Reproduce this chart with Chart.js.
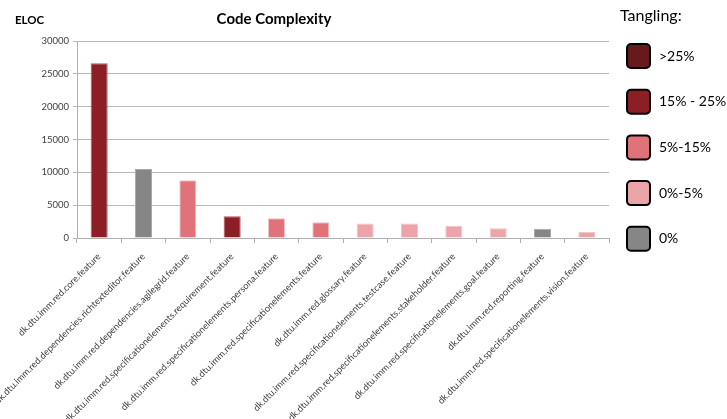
<!DOCTYPE html>
<html><head><meta charset="utf-8">
<script src="https://cdn.jsdelivr.net/npm/chart.js@4/dist/chart.umd.min.js"></script>
<style>html,body{margin:0;padding:0;background:#fff}#wrap{width:727px;height:419px;position:relative}</style>
</head><body><div id="wrap"><canvas id="c" width="727" height="419"></canvas></div>
<script>
const categories = [
  "dk.dtu.imm.red.core.feature",
  "dk.dtu.imm.red.dependencies.richtexteditor.feature",
  "dk.dtu.imm.red.dependencies.agilegrid.feature",
  "dk.dtu.imm.red.specificationelements.requirement.feature",
  "dk.dtu.imm.red.specificationelements.persona.feature",
  "dk.dtu.imm.red.specificationelements.feature",
  "dk.dtu.imm.red.glossary.feature",
  "dk.dtu.imm.red.specificationelements.testcase.feature",
  "dk.dtu.imm.red.specificationelements.stakeholder.feature",
  "dk.dtu.imm.red.specificationelements.goal.feature",
  "dk.dtu.imm.red.reporting.feature",
  "dk.dtu.imm.red.specificationelements.vision.feature"
];
const eloc = [26600, 10500, 8780, 3300, 3000, 2400, 2200, 2200, 1850, 1500, 1400, 950];
const tanglingClass = ["15% - 25%", "0%", "5%-15%", "15% - 25%", "5%-15%", "5%-15%", "0%-5%", "0%-5%", "0%-5%", "0%-5%", "0%", "0%-5%"];
const legendLabels = [">25%", "15% - 25%", "5%-15%", "0%-5%", "0%"];
const legendColors = ["#661A1E", "#8C1E26", "#E0737A", "#EBA4A8", "#868686"];
const yTicks = [0, 5000, 10000, 15000, 20000, 25000, 30000];

const colorOf = c => legendColors[legendLabels.indexOf(c)];
const barColors = tanglingClass.map(colorOf);
const barBorders = tanglingClass.map(c => c === "0%" ? "#a8a8a8" : (c === "15% - 25%" ? "#b0575d" : "#f3c3c6"));

const FONT = "Lato, 'Open Sans', sans-serif";

const customText = {
  id: 'customText',
  afterDraw(chart) {
    const ctx = chart.ctx;
    ctx.save();
    ctx.fillStyle = '#000';
    ctx.textBaseline = 'middle';
    ctx.font = "bold 15px " + FONT;
    ctx.textAlign = 'center';
    ctx.fillText("Code Complexity", 274, 19);
    ctx.font = "bold 11.5px " + FONT;
    ctx.textAlign = 'left';
    ctx.fillText("ELOC", 15, 20);
    ctx.font = "16px " + FONT;
    ctx.fillText("Tangling:", 620, 16);
    legendLabels.forEach((lab, i) => {
      const y = 44 + i * 45.7;
      ctx.beginPath();
      ctx.roundRect(627, y, 23, 24, 4);
      ctx.fillStyle = legendColors[i];
      ctx.fill();
      ctx.lineWidth = 2;
      ctx.strokeStyle = '#000';
      ctx.stroke();
      ctx.fillStyle = '#000';
      ctx.font = "14px " + FONT;
      ctx.fillText(lab, 659, y + 12);
    });
    ctx.restore();
  }
};

new Chart(document.getElementById('c'), {
  type: 'bar',
  data: {
    labels: categories,
    datasets: [{
      label: 'ELOC',
      data: eloc,
      backgroundColor: barColors,
      borderColor: barBorders,
      borderWidth: 1,
      barPercentage: 1,
      categoryPercentage: 0.385
    }]
  },
  options: {
    responsive: false,
    animation: false,
    layout: { padding: { top: 41, right: 118, left: 0, bottom: 0 } },
    plugins: { legend: { display: false }, title: { display: false }, tooltip: { enabled: false } },
    scales: {
      x: {
        grid: { display: true, drawOnChartArea: false, drawTicks: true, tickLength: 5, offset: true, color: '#b0b0b0' },
        border: { display: true, color: '#b0b0b0' },
        ticks: { autoSkip: false, maxRotation: 45, minRotation: 45, color: '#404040', font: { family: FONT, size: 9.3 }, padding: 8 },
        afterFit(s) { s.height = 419 - 238; }
      },
      y: {
        min: 0, max: 30000,
        afterBuildTicks(s) { s.ticks = yTicks.map(v => ({ value: v })); },
        grid: { color: '#b8b8b8', tickLength: 4 },
        border: { display: true, color: '#b0b0b0' },
        ticks: { color: '#404040', font: { family: FONT, size: 9.5 }, padding: 4, callback: v => String(v) },
        afterFit(s) { s.width = 77; }
      }
    }
  },
  plugins: [customText]
});
</script></body></html>
